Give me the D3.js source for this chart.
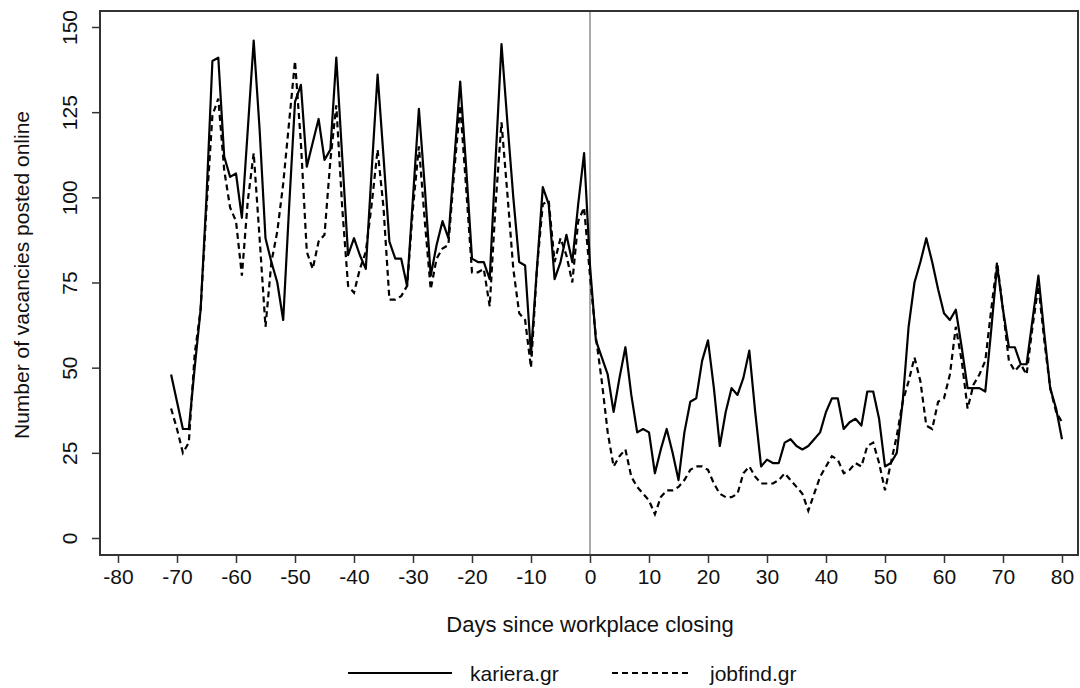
<!DOCTYPE html>
<html lang="en">
<head>
  <meta charset="UTF-8">
  <title>Vacancies posted online</title>
  <style>
    html, body {
      margin: 0;
      padding: 0;
      background: #fff;
    }
    svg {
      display: block;
      font-family: "Liberation Sans", Arial, sans-serif;
    }
  </style>
</head>
<body>
  <svg id="chart" width="1080" height="688"></svg>

  <script src="https://d3js.org/d3.v7.min.js"></script>
  <script>
    // days since closing, -71 .. 80
    const days = d3.range(-71, 81);

    const kariera = [
      48, 40, 32, 32, 50, 67, 100, 140, 141, 112, 106, 107, 94, 120, 146, 120, 88, 81, 75, 64,
      97, 128, 133, 109, 116, 123, 111, 114, 141, 112, 83, 88, 83, 79, 108, 136, 112, 87, 82, 82,
      74, 100, 126, 103, 77, 86, 93, 88, 111, 134, 109, 82, 81, 81, 76, 111, 145, 122, 100, 81,
      80, 54, 79, 103, 98, 76, 81, 89, 81, 98, 113,
      80,
      58, 53, 48, 37, 47, 56, 42, 31, 32, 31, 19, 26, 32, 25, 17, 31, 40, 41, 52, 58,
      44, 27, 37, 44, 42, 47, 55, 37, 21, 23, 22, 22, 28, 29, 27, 26, 27, 29, 31, 37,
      41, 41, 32, 34, 35, 33, 43, 43, 35, 21, 22, 25, 40, 62, 75, 81, 88, 81, 73, 66,
      64, 67, 56, 44, 44, 44, 43, 61, 80, 67, 56, 56, 51, 51, 64, 77, 60, 44, 38, 29
    ];

    const jobfind = [
      38, 32, 25, 28, 54, 67, 97, 124, 129, 108, 97, 93, 77, 99, 113, 88, 62, 81, 90, 104,
      122, 140, 116, 84, 79, 87, 89, 111, 127, 97, 74, 72, 79, 84, 98, 114, 97, 70, 70, 71,
      74, 97, 115, 93, 73, 82, 85, 86, 108, 127, 103, 78, 78, 79, 68, 98, 122, 101, 79, 66,
      64, 50, 79, 98, 99, 81, 88, 83, 75, 93, 97,
      77,
      59, 46, 31, 21, 24, 26, 18, 15, 13, 11, 7, 12, 14, 14, 15, 17, 20, 21, 21, 20,
      16, 13, 12, 12, 13, 19, 21, 18, 16, 16, 16, 17, 19, 17, 15, 13, 8, 13, 18, 21,
      24, 23, 19, 20, 22, 21, 27, 28, 22, 14, 22, 30, 40, 46, 53, 46, 33, 32, 40, 41,
      48, 62, 52, 38, 45, 48, 52, 67, 81, 67, 52, 49, 51, 48, 62, 74, 58, 44, 37, 34
    ];

    const xTicks = d3.range(-80, 81, 10);
    const yTicks = [0, 25, 50, 75, 100, 125, 150];

    const seriesNames = ["kariera.gr", "jobfind.gr"];

    const svg = d3.select("#chart");

    // plot box
    const box = { left: 100, right: 1078, top: 11, bottom: 555 };

    const x = d3.scaleLinear().domain([-80, 80]).range([118, 1062]);
    const y = d3.scaleLinear().domain([0, 150]).range([538, 27]);

    // zero line (workplace closing)
    svg.append("line")
      .attr("x1", x(0)).attr("x2", x(0))
      .attr("y1", box.top).attr("y2", box.bottom)
      .attr("stroke", "#555")
      .attr("stroke-width", 1);

    const line = d3.line()
      .x((d, i) => x(days[i]))
      .y(d => y(d));

    svg.append("path")
      .datum(kariera)
      .attr("d", line)
      .attr("fill", "none")
      .attr("stroke", "#000")
      .attr("stroke-width", 2.2)
      .attr("stroke-linejoin", "round");

    svg.append("path")
      .datum(jobfind)
      .attr("d", line)
      .attr("fill", "none")
      .attr("stroke", "#000")
      .attr("stroke-width", 2.2)
      .attr("stroke-dasharray", "6,4");

    // frame
    svg.append("rect")
      .attr("x", box.left).attr("y", box.top)
      .attr("width", box.right - box.left)
      .attr("height", box.bottom - box.top)
      .attr("fill", "none")
      .attr("stroke", "#333")
      .attr("stroke-width", 2);

    // plain hyphen for negatives, like the original
    const fmt = d => String(d);

    // x axis
    const xAxis = d3.axisBottom(x)
      .tickValues(xTicks)
      .tickFormat(fmt)
      .tickSize(8)
      .tickPadding(6)
      .tickSizeOuter(0);
    const gx = svg.append("g")
      .attr("transform", `translate(0,${box.bottom})`)
      .call(xAxis);
    gx.select(".domain").remove();
    gx.selectAll("line").attr("stroke", "#333").attr("stroke-width", 1.5);
    gx.selectAll("text")
      .attr("font-size", 21)
      .attr("font-family", "Liberation Sans, Arial, sans-serif")
      .attr("fill", "#111");

    // y axis, labels rotated
    const yAxis = d3.axisLeft(y)
      .tickValues(yTicks)
      .tickFormat(fmt)
      .tickSize(8)
      .tickSizeOuter(0);
    const gy = svg.append("g")
      .attr("transform", `translate(${box.left},0)`)
      .call(yAxis);
    gy.select(".domain").remove();
    gy.selectAll("line").attr("stroke", "#333").attr("stroke-width", 1.5);
    gy.selectAll("text")
      .attr("font-size", 21)
      .attr("font-family", "Liberation Sans, Arial, sans-serif")
      .attr("fill", "#111")
      .attr("x", null).attr("dy", null)
      .attr("text-anchor", "middle")
      .attr("transform", "translate(-23,0) rotate(-90)");

    // axis titles
    svg.append("text")
      .attr("x", 590).attr("y", 632)
      .attr("text-anchor", "middle")
      .attr("font-size", 22)
      .attr("fill", "#111")
      .text("Days since workplace closing");

    svg.append("text")
      .attr("transform", "translate(29,275) rotate(-90)")
      .attr("text-anchor", "middle")
      .attr("font-size", 21)
      .attr("fill", "#111")
      .text("Number of vacancies posted online");

    // legend
    const legend = svg.append("g");
    const legendItems = [
      { name: seriesNames[0], x1: 348, x2: 452, tx: 470, dash: null },
      { name: seriesNames[1], x1: 612, x2: 692, tx: 710, dash: "6,4" }
    ];
    legendItems.forEach(d => {
      legend.append("line")
        .attr("x1", d.x1).attr("x2", d.x2)
        .attr("y1", 673).attr("y2", 673)
        .attr("stroke", "#000")
        .attr("stroke-width", 2.2)
        .attr("stroke-dasharray", d.dash);
      legend.append("text")
        .attr("x", d.tx).attr("y", 681)
        .attr("font-size", 21)
        .attr("fill", "#111")
        .text(d.name);
    });
  </script>
</body>
</html>
